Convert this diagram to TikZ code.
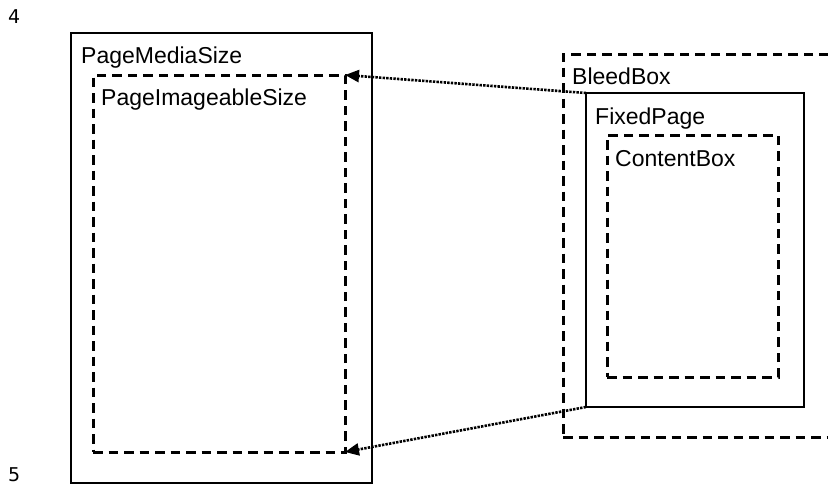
\documentclass[tikz,border=0pt]{standalone}
\usepackage{fontspec}
\setmainfont{Liberation Sans}
\newfontfamily\digitfont{DejaVu Sans}
\usetikzlibrary{arrows.meta}
\tikzset{
  solidbox/.style={draw=black, line width=1.6pt, inner sep=0pt, outer sep=0pt, anchor=north west},
  dashbox/.style={draw=black, line width=3pt, dash pattern=on 9.5pt off 6pt, inner sep=0pt, outer sep=0pt, anchor=north west},
  lbl/.style={font=\fontsize{23pt}{26pt}\selectfont, inner sep=0pt, anchor=base west},
  num/.style={font=\digitfont\fontsize{19pt}{22pt}\selectfont, inner sep=0pt, anchor=base west},
  link/.style={line width=2.6pt, dash pattern=on 2.4pt off 1.2pt, -{Triangle[length=14pt,width=12pt]}}
}
\begin{document}
\begin{tikzpicture}[x=1pt,y=-1pt]
\useasboundingbox (0,0) rectangle (828,485);
\clip (0,0) rectangle (828,485);
\node[solidbox, minimum width=301pt, minimum height=450pt] (media) at (71,33) {};
\node[dashbox, minimum width=252pt, minimum height=377pt] (imageable) at (93,75) {};
\node[dashbox, minimum width=290pt, minimum height=383pt] (bleed) at (563,54) {};
\node[solidbox, minimum width=218pt, minimum height=314pt] (fixed) at (586,93) {};
\node[dashbox, minimum width=171pt, minimum height=242pt] (content) at (607,135) {};
\node[lbl] (tmedia) at (81,63) {PageMediaSize};
\node[lbl] (timage) at (101,105) {PageImageableSize};
\node[lbl] (tbleed) at (572,84) {BleedBox};
\node[lbl] (tfixed) at (595,124) {FixedPage};
\node[lbl] (tcontent) at (615,166) {ContentBox};
\node[num] (n4) at (8,23) {4};
\node[num] (n5) at (8,481.5) {5};
\draw[link] (fixed.north west) -- (imageable.north east);
\draw[link] (fixed.south west) -- (imageable.south east);
\end{tikzpicture}
\end{document}
